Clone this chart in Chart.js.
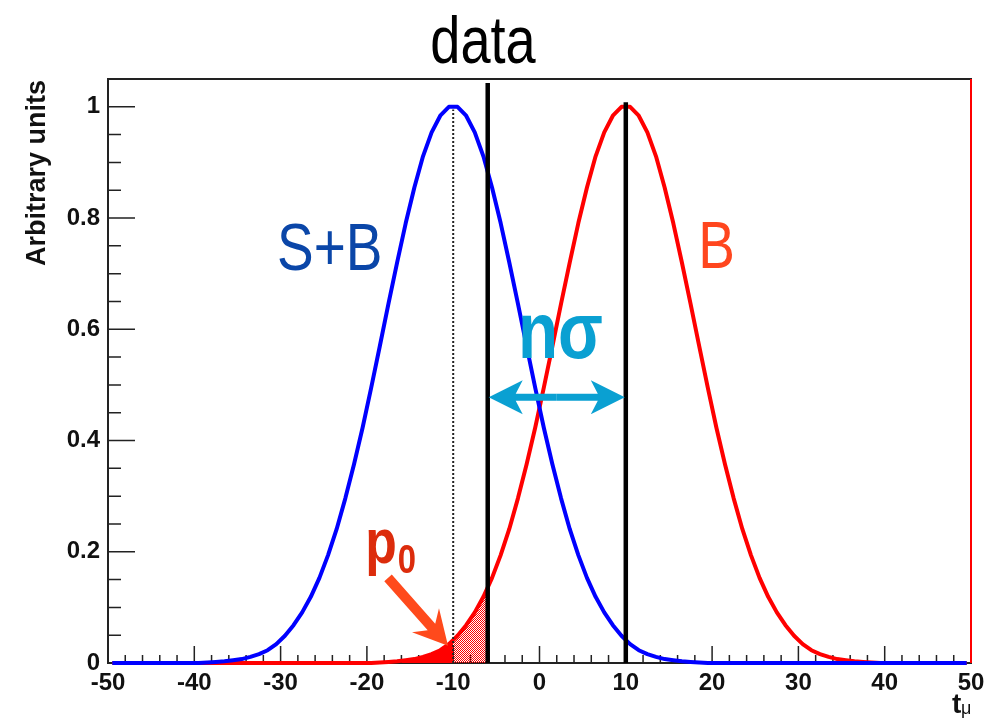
<!DOCTYPE html>
<html>
<head>
<meta charset="utf-8">
<script src="https://cdn.jsdelivr.net/npm/chart.js@4.4.1/dist/chart.umd.min.js"></script>
<style>
  html, body { margin: 0; padding: 0; background: #ffffff; overflow: hidden; }
  canvas { display: block; }
</style>
</head>
<body>
<canvas id="c" width="987" height="725"></canvas>
<script>
// Histogram bins of width 1 covering [-50, 50]
const binCenters = [];
for (let i = 0; i < 100; i++) binCenters.push(-49.5 + i);

// S+B hypothesis distribution of t_mu (normalised to peak 1)
const sbVals = [
  0, 0, 0, 0, 0, 0, 0, 0, 0, 0,
  0, 0.001, 0.002, 0.003, 0.005, 0.007, 0.011, 0.016, 0.023, 0.034,
  0.049, 0.068, 0.091, 0.119, 0.153, 0.194, 0.241, 0.296, 0.357, 0.423,
  0.495, 0.570, 0.646, 0.720, 0.791, 0.855, 0.911, 0.954, 0.984, 1.000,
  1.000, 0.984, 0.954, 0.911, 0.855, 0.791, 0.720, 0.646, 0.570, 0.495,
  0.423, 0.357, 0.296, 0.241, 0.194, 0.153, 0.119, 0.091, 0.068, 0.049,
  0.034, 0.023, 0.016, 0.011, 0.007, 0.005, 0.003, 0.002, 0.001, 0,
  0, 0, 0, 0, 0, 0, 0, 0, 0, 0,
  0, 0, 0, 0, 0, 0, 0, 0, 0, 0,
  0, 0, 0, 0, 0, 0, 0, 0, 0, 0
];

// B-only hypothesis distribution of t_mu
const bVals = [
  0, 0, 0, 0, 0, 0, 0, 0, 0, 0,
  0, 0, 0, 0, 0, 0, 0, 0, 0, 0,
  0, 0, 0, 0, 0, 0, 0, 0, 0, 0,
  0, 0.001, 0.002, 0.003, 0.005, 0.007, 0.011, 0.016, 0.023, 0.034,
  0.049, 0.068, 0.091, 0.119, 0.153, 0.194, 0.241, 0.296, 0.357, 0.423,
  0.495, 0.570, 0.646, 0.720, 0.791, 0.855, 0.911, 0.954, 0.984, 1.000,
  1.000, 0.984, 0.954, 0.911, 0.855, 0.791, 0.720, 0.646, 0.570, 0.495,
  0.423, 0.357, 0.296, 0.241, 0.194, 0.153, 0.119, 0.091, 0.068, 0.049,
  0.034, 0.023, 0.016, 0.011, 0.007, 0.005, 0.003, 0.002, 0.001, 0,
  0, 0, 0, 0, 0, 0, 0, 0, 0, 0
];

const xTicks = [-50, -40, -30, -20, -10, 0, 10, 20, 30, 40, 50];
const yTicks = [0, 0.2, 0.4, 0.6, 0.8, 1];

// Reference values on the t_mu axis
const tObserved = -6;    // value measured in data
const sbMedian = -10;    // median of S+B
const bMedian = 10;      // median of B
const shadeFrom = -16;   // left end of the shaded tail

const FAMILY = "'Liberation Sans', Arial, Helvetica, sans-serif";

// --- helpers -------------------------------------------------------------
function interp(xs, ys, x) {
  if (x <= xs[0]) return ys[0];
  for (let i = 1; i < xs.length; i++) {
    if (x <= xs[i]) {
      const t = (x - xs[i - 1]) / (xs[i] - xs[i - 1]);
      return ys[i - 1] + t * (ys[i] - ys[i - 1]);
    }
  }
  return ys[ys.length - 1];
}
function curveSlice(xs, ys, a, b) {
  const pts = [{ x: a, y: interp(xs, ys, a) }];
  xs.forEach((x, i) => { if (x > a && x < b) pts.push({ x: x, y: ys[i] }); });
  pts.push({ x: b, y: interp(xs, ys, b) });
  return pts;
}
const toPoints = vals => vals.map((v, i) => ({ x: binCenters[i], y: v }));

const canvas = document.getElementById('c');
const ctx0 = canvas.getContext('2d');

// dotted red hatch used under the B tail
const tile = document.createElement('canvas');
tile.width = 2; tile.height = 2;
const tctx = tile.getContext('2d');
tctx.fillStyle = '#ff0000';
tctx.fillRect(0, 0, 1, 1);
tctx.fillRect(1, 1, 1, 1);
const hatch = ctx0.createPattern(tile, 'repeat');

function narrowText(ctx, txt, x, y, size, weight, color, align, sx) {
  ctx.save();
  ctx.translate(x, y);
  ctx.scale(sx, 1);
  ctx.font = weight + ' ' + size + 'px ' + FAMILY;
  ctx.fillStyle = color;
  ctx.textAlign = align;
  ctx.textBaseline = 'alphabetic';
  ctx.fillText(txt, 0, 0);
  ctx.restore();
}

function arrowHead(ctx, fx, fy, tx, ty, shaftW, headLen, headHalf, joinLen) {
  const dx = tx - fx, dy = ty - fy;
  const L = Math.hypot(dx, dy);
  const ux = dx / L, uy = dy / L;
  const nx = -uy, ny = ux;
  const p = (along, side) => [tx - ux * along + nx * side, ty - uy * along + ny * side];
  const pts = [
    [fx + nx * shaftW / 2, fy + ny * shaftW / 2],
    p(joinLen, shaftW / 2),
    p(headLen, headHalf),
    [tx, ty],
    p(headLen, -headHalf),
    p(joinLen, -shaftW / 2),
    [fx - nx * shaftW / 2, fy - ny * shaftW / 2]
  ];
  ctx.beginPath();
  ctx.moveTo(pts[0][0], pts[0][1]);
  for (let i = 1; i < pts.length; i++) ctx.lineTo(pts[i][0], pts[i][1]);
  ctx.closePath();
  ctx.fill();
}

// --- frame and inward tick marks ----------------------------------------
const framePlugin = {
  id: 'frame',
  beforeDatasetsDraw(chart) {
    const { ctx, chartArea: a, scales: { x, y } } = chart;
    ctx.save();
    ctx.strokeStyle = '#222';
    ctx.lineWidth = 1.5;
    ctx.beginPath();
    for (let v = -50; v <= 50; v += 2) {
      const px = x.getPixelForValue(v);
      const len = (v % 10 === 0) ? 17 : 8;
      ctx.moveTo(px, a.bottom);
      ctx.lineTo(px, a.bottom - len);
    }
    for (let k = 0; k <= 21; k++) {
      const py = y.getPixelForValue(k * 0.05);
      const len = (k % 4 === 0) ? 27 : 13;
      ctx.moveTo(a.left, py);
      ctx.lineTo(a.left + len, py);
    }
    ctx.stroke();
    ctx.lineWidth = 2;
    ctx.strokeRect(a.left, a.top, a.right - a.left, a.bottom - a.top);
    ctx.restore();
  }
};

// --- labels, arrows and titles ------------------------------------------
const notes = {
  sb:    { x: -24.3, y: 0.707 },
  b:     { x: 18.4,  y: 0.710 },
  nsig:  { x: -2.5,  y: 0.549 },
  p0:    { x: -20.2, y: 0.180 },
  arrowY: 0.478,
  pTail: { x: -17.55, y: 0.153 },
  pTip:  { x: -10.6,  y: 0.031 }
};

const annotatePlugin = {
  id: 'annotate',
  afterDatasetsDraw(chart) {
    const { ctx, scales: { x, y } } = chart;
    const X = v => x.getPixelForValue(v);
    const Y = v => y.getPixelForValue(v);
    ctx.save();

    narrowText(ctx, 'S+B', X(notes.sb.x), Y(notes.sb.y), 67, 'normal', '#0a46a8', 'center', 0.82);
    narrowText(ctx, 'B', X(notes.b.x), Y(notes.b.y), 67, 'normal', '#ff461e', 'left', 0.82);
    narrowText(ctx, 'n\u03c3', X(notes.nsig.x), Y(notes.nsig.y), 80, 'bold', '#0aa0d2', 'left', 0.82);

    // p0 with subscript
    const px0 = X(notes.p0.x), py0 = Y(notes.p0.y);
    ctx.font = 'bold 63px ' + FAMILY;
    const pw = ctx.measureText('p').width * 0.82;
    narrowText(ctx, 'p', px0, py0, 63, 'bold', '#dc2c0c', 'left', 0.82);
    narrowText(ctx, '0', px0 + pw + 1, py0 + 10, 40, 'bold', '#dc2c0c', 'left', 0.82);

    // double arrow between observed value and B median
    ctx.fillStyle = '#0aa0d2';
    const ay = Y(notes.arrowY);
    const xl = X(tObserved), xr = X(bMedian), xm = (xl + xr) / 2;
    arrowHead(ctx, xm, ay, xl + 1, ay, 7, 34, 17, 27);
    arrowHead(ctx, xm, ay, xr - 1, ay, 7, 34, 17, 27);

    // arrow pointing at the p0 tail
    ctx.fillStyle = '#ff4a1c';
    arrowHead(ctx, X(notes.pTail.x), Y(notes.pTail.y), X(notes.pTip.x), Y(notes.pTip.y), 10, 34, 18, 25);

    ctx.restore();
  },
  afterDraw(chart) {
    const { ctx, chartArea: a } = chart;
    ctx.save();
    // title
    narrowText(ctx, 'data', 483, 63, 66, 'normal', '#000', 'center', 0.82);

    // y axis title
    ctx.translate(45, a.top + 1);
    ctx.rotate(-Math.PI / 2);
    ctx.font = 'bold 27px ' + FAMILY;
    ctx.fillStyle = '#111';
    ctx.textAlign = 'right';
    ctx.textBaseline = 'alphabetic';
    ctx.fillText('Arbitrary units', 0, 0);
    ctx.restore();

    // x axis title
    ctx.save();
    ctx.fillStyle = '#111';
    ctx.textBaseline = 'alphabetic';
    ctx.textAlign = 'left';
    ctx.font = 'bold 28px ' + FAMILY;
    ctx.fillText('t', 952, 713);
    ctx.font = '18px ' + FAMILY;
    ctx.fillText('\u03bc', 961, 714);
    ctx.restore();
  }
};

const lineStyle = { showLine: true, pointRadius: 0, borderJoinStyle: 'round', tension: 0, clip: false, fill: false };

new Chart(canvas, {
  type: 'scatter',
  data: {
    datasets: [
      Object.assign({}, lineStyle, { label: 'data', data: [{ x: tObserved, y: 0 }, { x: tObserved, y: 1.043 }],
        borderColor: '#000', borderWidth: 4.5, order: 1 }),
      Object.assign({}, lineStyle, { label: 'B median', data: [{ x: bMedian, y: 0 }, { x: bMedian, y: 1.008 }],
        borderColor: '#000', borderWidth: 4.5, order: 1 }),
      Object.assign({}, lineStyle, { label: 'S+B median', data: [{ x: sbMedian, y: 0 }, { x: sbMedian, y: 0.995 }],
        borderColor: '#222', borderWidth: 2, borderDash: [2, 2], order: 1 }),
      Object.assign({}, lineStyle, { label: 'S+B', data: toPoints(sbVals),
        borderColor: '#0000ff', borderWidth: 4, order: 2 }),
      Object.assign({}, lineStyle, { label: 'B', data: toPoints(bVals),
        borderColor: '#ff0000', borderWidth: 4, order: 3 }),
      Object.assign({}, lineStyle, { label: 'B edge', data: [{ x: 50, y: 0 }, { x: 50, y: 1.05 }],
        borderColor: '#ff0000', borderWidth: 2, order: 3 }),
      Object.assign({}, lineStyle, { label: 'tail solid', data: curveSlice(binCenters, bVals, shadeFrom, sbMedian),
        borderColor: 'rgba(0,0,0,0)', borderWidth: 0, fill: 'origin', backgroundColor: '#ff0000', order: 4 }),
      Object.assign({}, lineStyle, { label: 'tail hatch', data: curveSlice(binCenters, bVals, sbMedian, tObserved),
        borderColor: 'rgba(0,0,0,0)', borderWidth: 0, fill: 'origin', backgroundColor: hatch, order: 4 })
    ]
  },
  options: {
    responsive: false,
    animation: false,
    devicePixelRatio: 1,
    layout: { padding: { top: 79, right: 16, left: 0, bottom: 0 } },
    plugins: { legend: { display: false }, tooltip: { enabled: false }, title: { display: false } },
    scales: {
      x: {
        type: 'linear', min: -50, max: 50,
        afterBuildTicks: s => { s.ticks = xTicks.map(v => ({ value: v })); },
        afterFit: s => { s.height = 62; s.paddingLeft = 0; s.paddingRight = 0; },
        ticks: { font: { family: FAMILY, size: 24, weight: 'bold' }, color: '#111', padding: 6,
                 maxRotation: 0, autoSkip: false, callback: v => String(v) },
        grid: { display: false, drawTicks: false },
        border: { display: false }
      },
      y: {
        type: 'linear', min: 0, max: 1.05,
        afterBuildTicks: s => { s.ticks = yTicks.map(v => ({ value: v })); },
        afterFit: s => { s.width = 108; s.paddingTop = 0; s.paddingBottom = 0; },
        ticks: { font: { family: FAMILY, size: 24, weight: 'bold' }, color: '#111', padding: 8,
                 callback: v => (v === 0 ? '0' : v === 1 ? '1' : v.toFixed(1)) },
        grid: { display: false, drawTicks: false },
        border: { display: false }
      }
    }
  },
  plugins: [framePlugin, annotatePlugin]
});
</script>
</body>
</html>
